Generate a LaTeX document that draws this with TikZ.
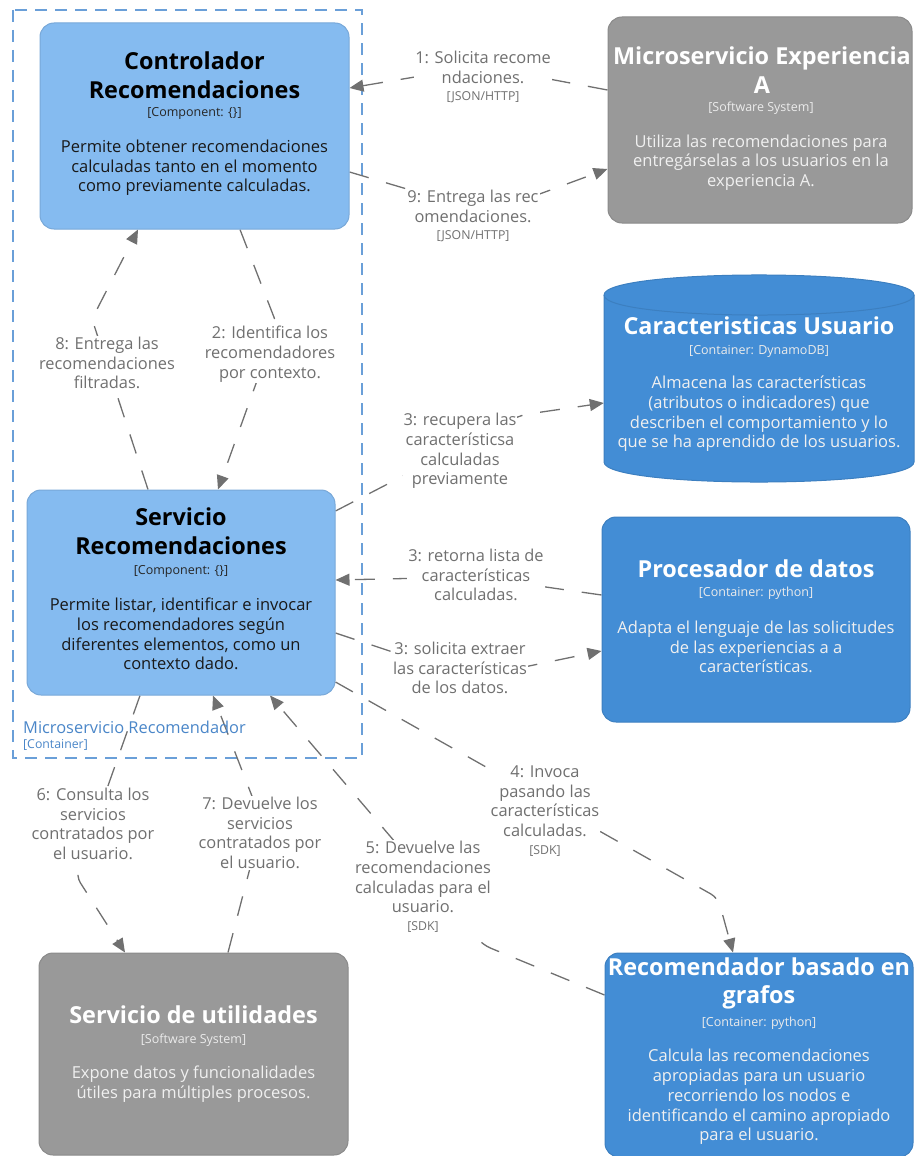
\documentclass[tikz,border=0pt]{standalone}
\usepackage{fontspec}
\setmainfont{Open Sans}
\usetikzlibrary{arrows.meta}
\definecolor{compfill}{HTML}{85BBF0}
\definecolor{compline}{HTML}{78A8D8}
\definecolor{contfill}{HTML}{438DD5}
\definecolor{contline}{HTML}{3C7FC0}
\definecolor{extfill}{HTML}{999999}
\definecolor{extline}{HTML}{8A8A8A}
\definecolor{edgegray}{HTML}{707070}
\definecolor{boundline}{HTML}{6A9FD8}
\definecolor{boundtext}{HTML}{4A86C8}
\pgfdeclarelayer{back}
\pgfsetlayers{back,main}
\begin{document}
\begin{tikzpicture}[x=1pt,y=-1pt,
  elem/.style={rounded corners=14pt, line width=1pt, inner sep=0pt},
  comp/.style={elem, fill=compfill, draw=compline},
  cont/.style={elem, fill=contfill, draw=contline},
  ext/.style={elem, fill=extfill, draw=extline},
  ttl/.style={font=\fontsize{23.4}{28.5}\selectfont\bfseries, align=center, inner sep=0pt},
  meta/.style={font=\fontsize{12.5}{15}\selectfont, align=center, inner sep=0pt},
  desc/.style={font=\fontsize{16.5}{19.7}\selectfont, align=center, inner sep=0pt},
  rel/.style={draw=edgegray, line width=1.3pt, dash pattern=on 20pt off 18pt,
    rounded corners=8pt, -{Triangle[length=14pt,width=12pt]}},
  lbl/.style={fill=white, text=edgegray, font=\fontsize{16.4}{19.7}\selectfont,
    align=center, inner sep=1pt},
]
\newcommand{\relmeta}[1]{{\fontsize{12.3}{14}\selectfont #1}}
\useasboundingbox (0,0) rectangle (914,1156);

% container boundary
\begin{pgfonlayer}{back}
  \draw[boundline, line width=1.3pt, dash pattern=on 12pt off 8pt] (13,10) rectangle (362,758);
\end{pgfonlayer}
\node[anchor=west, inner sep=0pt, text=boundtext, font=\fontsize{16.4}{19}\selectfont] (bname) at (23,727) {Microservicio Recomendador};
\node[anchor=west, inner sep=0pt, text=boundtext, font=\fontsize{12.3}{14}\selectfont] (btype) at (23,745) {[Container]};

% Controlador Recomendaciones
\node[comp, minimum width=309pt, minimum height=206pt] (ctrl) at (194.5,126) {};
\node[ttl] (ctrl-t) at (194.5,75) {Controlador\\Recomendaciones};
\node[meta, text=black!85] (ctrl-m) at (194.5,113) {[Component: \{\}]};
\node[desc, text=black!90] (ctrl-d) at (194.5,168) {Permite obtener recomendaciones\\calculadas tanto en el momento\\como previamente calculadas.};

% Servicio Recomendaciones
\node[comp, minimum width=308pt, minimum height=205pt] (svc) at (181,592.5) {};
\node[ttl] (svc-t) at (181,531) {Servicio\\Recomendaciones};
\node[meta, text=black!85] (svc-m) at (181,571) {[Component: \{\}]};
\node[desc, text=black!90] (svc-d) at (181,634) {Permite listar, identificar e invocar\\los recomendadores según\\diferentes elementos, como un\\contexto dado.};

% Microservicio Experiencia A
\node[ext, minimum width=304pt, minimum height=206pt] (expa) at (760,120) {};
\node[ttl, text=white] (expa-t) at (762,70) {Microservicio Experiencia\\A};
\node[meta, text=white!92!black] (expa-m) at (761,108) {[Software System]};
\node[desc, text=white!94!black] (expa-d) at (761,162.5) {Utiliza las recomendaciones para\\entregárselas a los usuarios en la\\experiencia A.};

% Caracteristicas Usuario (database)
\node[minimum width=310pt, minimum height=207pt, inner sep=0pt] (char) at (759,378.5) {};
\path[fill=contfill, draw=contline, line width=1pt]
  (604,295) -- (604,462) .. controls (604,488.7) and (914,488.7) .. (914,462)
  -- (914,295) .. controls (914,268.3) and (604,268.3) .. (604,295) -- cycle;
\draw[contline, line width=1pt] (604,295) .. controls (604,321.7) and (914,321.7) .. (914,295);
\node[ttl, text=white] (char-t) at (759,326) {Caracteristicas Usuario};
\node[meta, text=white!92!black] (char-m) at (759,351) {[Container: DynamoDB]};
\node[desc, text=white!94!black] (char-d) at (759,414) {Almacena las características\\(atributos o indicadores) que\\describen el comportamiento y lo\\que se ha aprendido de los usuarios.};

% Procesador de datos
\node[cont, minimum width=308pt, minimum height=205pt] (proc) at (756,619.5) {};
\node[ttl, text=white] (proc-t) at (756,569) {Procesador de datos};
\node[meta, text=white!92!black] (proc-m) at (756,593) {[Container: python]};
\node[desc, text=white!94!black] (proc-d) at (756,647) {Adapta el lenguaje de las solicitudes\\de las experiencias a a\\características.};

% Servicio de utilidades
\node[ext, minimum width=309pt, minimum height=202pt] (util) at (193.5,1054) {};
\node[ttl, text=white] (util-t) at (193.5,1015) {Servicio de utilidades};
\node[meta, text=white!92!black] (util-m) at (193.5,1040) {[Software System]};
\node[desc, text=white!94!black] (util-d) at (193.5,1084) {Expone datos y funcionalidades\\útiles para múltiples procesos.};

% Recomendador basado en grafos
\node[cont, minimum width=308pt, minimum height=204pt] (graf) at (759,1055) {};
\node[ttl, text=white] (graf-t) at (759,983.5) {Recomendador basado en\\grafos};
\node[meta, text=white!92!black] (graf-m) at (759,1023) {[Container: python]};
\node[desc, text=white!94!black] (graf-d) at (759,1097) {Calcula las recomendaciones\\apropiadas para un usuario\\recorriendo los nodos e\\identificando el camino apropiado\\para el usuario.};

% relationship labels
\node[lbl] (l1) at (483,77) {1: Solicita recome\\ndaciones.\\[-2pt]\relmeta{[JSON/HTTP]}};
\node[lbl] (l9) at (473,216) {9: Entrega las rec\\omendaciones.\\[-2pt]\relmeta{[JSON/HTTP]}};
\node[lbl] (l2) at (270,354) {2: Identifica los\\recomendadores\\por contexto.};
\node[lbl] (l8) at (107,363) {8: Entrega las\\recomendaciones\\filtradas.};
\node[lbl] (l3a) at (460,451) {3: recupera las\\característicsa\\calculadas\\previamente};
\node[lbl] (l3b) at (476,575) {3: retorna lista de\\características\\calculadas.};
\node[lbl] (l3c) at (460,668) {3: solicita extraer\\las características\\de los datos.};
\node[lbl] (l4) at (545,811) {4: Invoca\\pasando las\\características\\calculadas.\\[-2pt]\relmeta{[SDK]}};
\node[lbl] (l5) at (423,887) {5: Devuelve las\\recomendaciones\\calculadas para el\\usuario.\\[-2pt]\relmeta{[SDK]}};
\node[lbl] (l6) at (93,824) {6: Consulta los\\servicios\\contratados por\\el usuario.};
\node[lbl] (l7) at (260,833) {7: Devuelve los\\servicios\\contratados por\\el usuario.};

% route bends
\coordinate (v1) at (480,66);
\coordinate (v9) at (488,213);
\coordinate (v2) at (277,325);
\coordinate (v8) at (92,319);
\coordinate (v3a) at (521,415);
\coordinate (v3b) at (476,577);
\coordinate (v3c) at (471,678);
\coordinate (v4) at (718,898);
\coordinate (v5) at (483,945);
\coordinate (v6) at (76,876);
\coordinate (v7) at (262,822);

% relationships
\begin{pgfonlayer}{back}
  \draw[rel] (expa.west |- 0,90) -- (v1) -- (ctrl.east |- 0,88);
  \draw[rel] (ctrl.east |- 0,172) -- (v9) -- (expa.west |- 0,169);
  \draw[rel] (ctrl.south -| 240,0) -- (v2) -- (svc.north -| 218,0);
  \draw[rel] (svc.north -| 148,0) -- (v8) -- (ctrl.south -| 138,0);
  \draw[rel] (svc.east |- 0,511) -- (v3a) -- (char.west |- 0,403);
  \draw[rel] (proc.west |- 0,595) -- (v3b) -- (svc.east |- 0,580);
  \draw[rel] (svc.east |- 0,633) -- (v3c) -- (proc.west |- 0,651);
  \draw[rel] (svc.east |- 0,682) -- (v4) -- (graf.north -| 733,0);
  \draw[rel] (graf.west |- 0,995) -- (v5) -- (svc.south -| 270,0);
  \draw[rel] (svc.south -| 140,0) -- (v6) -- (util.north -| 125,0);
  \draw[rel] (util.north -| 228,0) -- (v7) -- (svc.south -| 213,0);
\end{pgfonlayer}
\end{tikzpicture}
\end{document}
